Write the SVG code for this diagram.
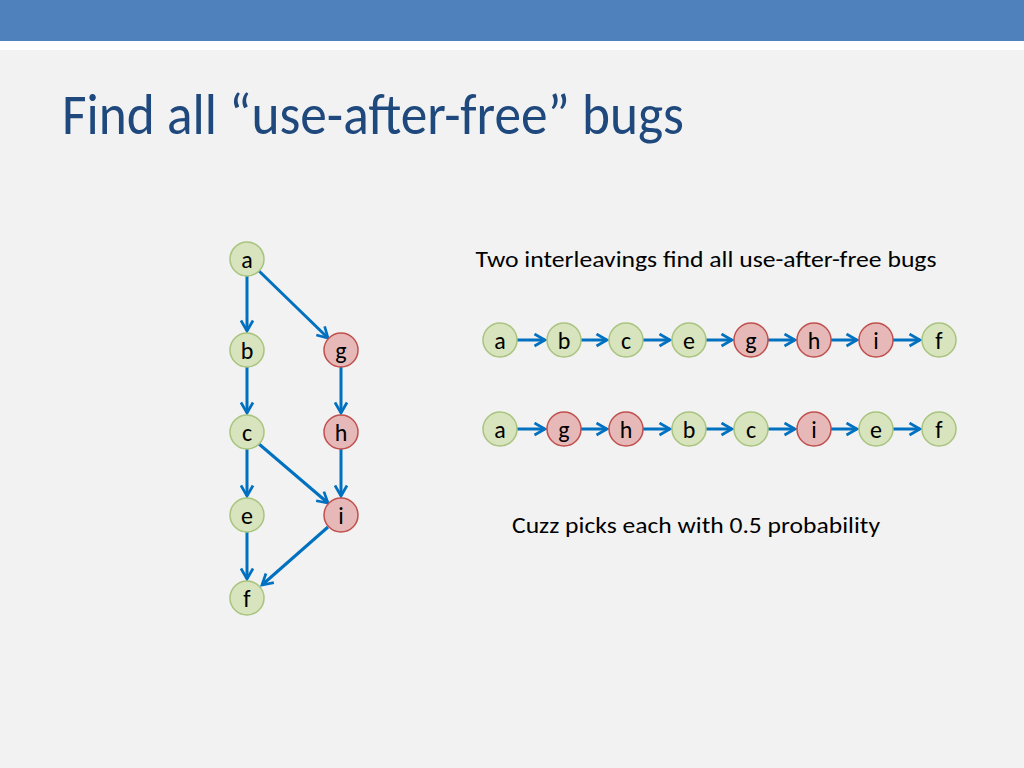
<svg xmlns="http://www.w3.org/2000/svg" width="1024" height="768" viewBox="0 0 1024 768">
<style>
.g{fill:#d7e4bd;stroke:#a9c47f;stroke-width:1.5}
.r{fill:#e6b9b8;stroke:#c0504d;stroke-width:1.5}
.t{font-family:Calibri,Carlito,"Liberation Sans",sans-serif;font-size:23px;fill:#000;text-anchor:middle;dominant-baseline:central}
.n{font-size:24px}
.e{stroke:#0070c0;stroke-width:3;fill:none;marker-end:url(#m)}
</style>
<defs><marker id="m" viewBox="0 0 10 10" refX="8" refY="5" markerWidth="5" markerHeight="5" orient="auto" markerUnits="strokeWidth"><path d="M1,1 L8,5 L1,9" fill="none" stroke="#0070c0" stroke-width="1.8"/></marker></defs>
<rect width="1024" height="768" fill="#f2f2f2"/>
<rect width="1024" height="41" fill="#4f81bd"/>
<rect y="41" width="1024" height="9" fill="#fff"/>
<text x="62" y="134" font-family="Calibri,Carlito,'Liberation Sans',sans-serif" font-size="58" fill="#1f497d" textLength="622" lengthAdjust="spacingAndGlyphs">Find all “use-after-free” bugs</text>
<text x="706" y="259" class="t" textLength="461" lengthAdjust="spacingAndGlyphs">Two interleavings find all use-after-free bugs</text>
<text x="696" y="525" class="t" textLength="368" lengthAdjust="spacingAndGlyphs">Cuzz picks each with 0.5 probability</text>
<g id="connectors">
<line class="e" x1="247" y1="276" x2="247" y2="331"/>
<line class="e" x1="259" y1="271" x2="328" y2="338"/>
<line class="e" x1="247" y1="367" x2="247" y2="413"/>
<line class="e" x1="341" y1="367" x2="341" y2="413"/>
<line class="e" x1="247" y1="449" x2="247" y2="496"/>
<line class="e" x1="341" y1="449" x2="341" y2="496"/>
<line class="e" x1="259" y1="444" x2="328" y2="503"/>
<line class="e" x1="247" y1="532" x2="247" y2="579"/>
<line class="e" x1="328" y1="527" x2="262" y2="585"/>
<line class="e" x1="517" y1="340" x2="545" y2="340"/>
<line class="e" x1="581" y1="340" x2="607" y2="340"/>
<line class="e" x1="643" y1="340" x2="670" y2="340"/>
<line class="e" x1="706" y1="340" x2="732" y2="340"/>
<line class="e" x1="768" y1="340" x2="795" y2="340"/>
<line class="e" x1="831" y1="340" x2="857" y2="340"/>
<line class="e" x1="893" y1="340" x2="920" y2="340"/>
<line class="e" x1="517" y1="429" x2="545" y2="429"/>
<line class="e" x1="581" y1="429" x2="607" y2="429"/>
<line class="e" x1="643" y1="429" x2="670" y2="429"/>
<line class="e" x1="706" y1="429" x2="732" y2="429"/>
<line class="e" x1="768" y1="429" x2="795" y2="429"/>
<line class="e" x1="831" y1="429" x2="857" y2="429"/>
<line class="e" x1="893" y1="429" x2="920" y2="429"/>
</g>
<g id="a"><circle class="g" cx="247" cy="259" r="17"/><text class="t n" x="247" y="259">a</text></g>
<g id="b"><circle class="g" cx="247" cy="350" r="17"/><text class="t n" x="247" y="350">b</text></g>
<g id="g"><circle class="r" cx="341" cy="350" r="17"/><text class="t n" x="341" y="350">g</text></g>
<g id="c"><circle class="g" cx="247" cy="432" r="17"/><text class="t n" x="247" y="432">c</text></g>
<g id="h"><circle class="r" cx="341" cy="432" r="17"/><text class="t n" x="341" y="432">h</text></g>
<g id="e"><circle class="g" cx="247" cy="515" r="17"/><text class="t n" x="247" y="515">e</text></g>
<g id="i"><circle class="r" cx="341" cy="515" r="17"/><text class="t n" x="341" y="515">i</text></g>
<g id="f"><circle class="g" cx="247" cy="598" r="17"/><text class="t n" x="247" y="598">f</text></g>
<g id="r1a"><circle class="g" cx="500" cy="340" r="17"/><text class="t n" x="500" y="340">a</text></g>
<g id="r1b"><circle class="g" cx="564" cy="340" r="17"/><text class="t n" x="564" y="340">b</text></g>
<g id="r1c"><circle class="g" cx="626" cy="340" r="17"/><text class="t n" x="626" y="340">c</text></g>
<g id="r1e"><circle class="g" cx="689" cy="340" r="17"/><text class="t n" x="689" y="340">e</text></g>
<g id="r1g"><circle class="r" cx="751" cy="340" r="17"/><text class="t n" x="751" y="340">g</text></g>
<g id="r1h"><circle class="r" cx="814" cy="340" r="17"/><text class="t n" x="814" y="340">h</text></g>
<g id="r1i"><circle class="r" cx="876" cy="340" r="17"/><text class="t n" x="876" y="340">i</text></g>
<g id="r1f"><circle class="g" cx="939" cy="340" r="17"/><text class="t n" x="939" y="340">f</text></g>
<g id="r2a"><circle class="g" cx="500" cy="429" r="17"/><text class="t n" x="500" y="429">a</text></g>
<g id="r2g"><circle class="r" cx="564" cy="429" r="17"/><text class="t n" x="564" y="429">g</text></g>
<g id="r2h"><circle class="r" cx="626" cy="429" r="17"/><text class="t n" x="626" y="429">h</text></g>
<g id="r2b"><circle class="g" cx="689" cy="429" r="17"/><text class="t n" x="689" y="429">b</text></g>
<g id="r2c"><circle class="g" cx="751" cy="429" r="17"/><text class="t n" x="751" y="429">c</text></g>
<g id="r2i"><circle class="r" cx="814" cy="429" r="17"/><text class="t n" x="814" y="429">i</text></g>
<g id="r2e"><circle class="g" cx="876" cy="429" r="17"/><text class="t n" x="876" y="429">e</text></g>
<g id="r2f"><circle class="g" cx="939" cy="429" r="17"/><text class="t n" x="939" y="429">f</text></g>
</svg>
